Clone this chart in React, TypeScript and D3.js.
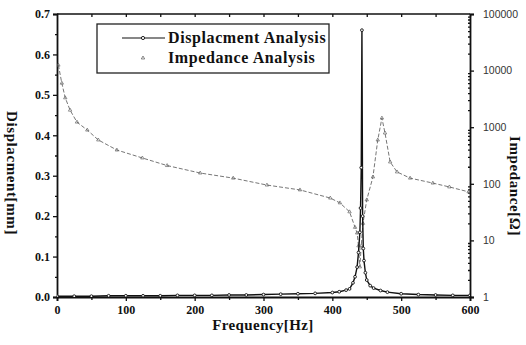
import { useEffect, useRef } from 'react';
import * as d3 from 'd3';

// Displacement analysis (left axis, mm)
const dispFreq = [0, 25, 50, 75, 100, 125, 150, 175, 200, 225, 250, 275, 300, 325, 350, 375, 400, 410, 420, 425, 430, 433, 436, 438, 440, 441, 442, 443, 444, 445, 446, 448, 450, 455, 460, 470, 480, 500, 525, 550, 575, 600];
const dispVal = [0.002, 0.002, 0.002, 0.003, 0.003, 0.003, 0.003, 0.004, 0.004, 0.004, 0.005, 0.005, 0.006, 0.007, 0.008, 0.009, 0.011, 0.013, 0.017, 0.02, 0.035, 0.05, 0.074, 0.11, 0.16, 0.22, 0.32, 0.66, 0.2, 0.12, 0.09, 0.06, 0.042, 0.028, 0.022, 0.016, 0.012, 0.008, 0.006, 0.005, 0.004, 0.004];

// Impedance analysis (right axis, log)
const impFreq = [2, 7, 12, 19, 29, 44, 60, 87, 124, 160, 208, 256, 305, 353, 397, 411, 425, 433, 436, 438, 440, 442, 444.5, 450, 459, 466, 472, 476.5, 484, 494, 513, 546, 570, 598];
const impVal = [12500, 6000, 3300, 2000, 1230, 890, 595, 395, 286, 210, 155, 126, 95, 78, 56, 46, 32, 17, 13.5, 8, 3.4, 8, 20, 52, 132, 594, 1450, 790, 243, 162, 126, 103, 88, 72];

const xTicks = [0, 100, 200, 300, 400, 500, 600];
const yLeftTicks = [0.0, 0.1, 0.2, 0.3, 0.4, 0.5, 0.6, 0.7];
const yRightTicks = [1, 10, 100, 1000, 10000, 100000];

const SERIF = '"Liberation Serif", "Times New Roman", serif';
const SANS = '"Liberation Sans", Arial, sans-serif';

export default function App() {
  const svgRef = useRef<SVGSVGElement>(null);

  useEffect(() => {
    if (!svgRef.current) return;
    const width = 526, height = 345;
    const L = 57, R = 470, T = 14, B = 297;

    const svg = d3.select(svgRef.current);
    svg.selectAll('*').remove();
    svg.attr('width', width).attr('height', height);

    const x = d3.scaleLinear().domain([0, 600]).range([L, R]);
    const yL = d3.scaleLinear().domain([0, 0.7]).range([B, T]);
    const yR = d3.scaleLog().domain([1, 100000]).range([B, T]);

    svg.append('rect').attr('width', width).attr('height', height).attr('fill', '#fff');

    const clip = svg.append('defs').append('clipPath').attr('id', 'plot');
    clip.append('rect').attr('x', L).attr('y', T - 2).attr('width', R - L).attr('height', B - T + 2);

    // Axes
    const bottom = svg.append('g').attr('transform', `translate(0,${B})`)
      .call(d3.axisBottom(x).tickValues(xTicks).tickSize(4).tickPadding(4).tickFormat(d3.format('d')));
    bottom.append('g').call(d3.axisBottom(x).tickValues(d3.range(50, 600, 100)).tickSize(3).tickFormat(() => ''))
      .call(s => s.select('.domain').remove());

    svg.append('g').attr('transform', `translate(0,${T})`)
      .call(d3.axisBottom(x).tickValues(d3.range(50, 601, 50)).tickSize(3).tickFormat(() => ''))
      .call(s => s.select('.domain').remove());
    svg.append('line').attr('x1', L).attr('x2', R).attr('y1', T).attr('y2', T);

    const left = svg.append('g').attr('transform', `translate(${L},0)`)
      .call(d3.axisLeft(yL).tickValues(yLeftTicks).tickSize(4).tickPadding(3).tickFormat(d3.format('.1f')));
    left.append('g').call(d3.axisLeft(yL).tickValues(d3.range(0.05, 0.7, 0.1)).tickSize(2).tickFormat(() => ''))
      .call(s => s.select('.domain').remove());

    const minor: number[] = [];
    for (let e = 0; e < 5; e++) for (let k = 2; k < 10; k++) minor.push(k * Math.pow(10, e));
    const right = svg.append('g').attr('transform', `translate(${R},0)`)
      .call(d3.axisRight(yR).tickValues(yRightTicks).tickSize(4).tickPadding(9).tickFormat(d3.format('d')));
    right.append('g').call(d3.axisLeft(yR).tickValues(minor).tickSize(2).tickFormat(() => ''))
      .call(s => s.select('.domain').remove());

    svg.selectAll('.domain, line').attr('stroke', '#111').attr('stroke-width', 1.3);
    svg.selectAll('.domain').attr('stroke-width', 1.8);
    bottom.selectAll('text').attr('font-family', SERIF).attr('font-weight', 'bold').attr('font-size', 12).attr('fill', '#111');
    left.selectAll('text').attr('font-family', SERIF).attr('font-weight', 'bold').attr('font-size', 12).attr('fill', '#111');
    right.selectAll('text').attr('font-family', SANS).attr('font-size', 10.5).attr('fill', '#333').attr('text-anchor', 'start');

    // Series
    const plot = svg.append('g').attr('clip-path', 'url(#plot)');
    const dispPts = dispFreq.map((f, i) => [x(f), yL(dispVal[i])] as [number, number]);
    const impPts = impFreq.map((f, i) => [x(f), yR(impVal[i])] as [number, number]);

    plot.append('path').attr('d', d3.line()(impPts)).attr('fill', 'none')
      .attr('stroke', '#666').attr('stroke-width', 0.9).attr('stroke-dasharray', '4,2');
    const tri = d3.symbol().type(d3.symbolTriangle).size(5);
    plot.selectAll('.imp').data(impPts).join('path').attr('class', 'imp')
      .attr('transform', d => `translate(${d[0]},${d[1]})`).attr('d', tri)
      .attr('fill', 'none').attr('stroke', '#666').attr('stroke-width', 0.7);

    plot.append('path').attr('d', d3.line()(dispPts)).attr('fill', 'none')
      .attr('stroke', '#111').attr('stroke-width', 1.4);
    plot.selectAll('.disp').data(dispPts).join('circle').attr('class', 'disp')
      .attr('cx', d => d[0]).attr('cy', d => d[1]).attr('r', 1.4)
      .attr('fill', '#fff').attr('stroke', '#111').attr('stroke-width', 0.9);

    // Legend
    const lg = svg.append('g');
    lg.append('rect').attr('x', 97).attr('y', 24).attr('width', 232).attr('height', 49)
      .attr('fill', '#fff').attr('stroke', '#222').attr('stroke-width', 1.3);
    lg.append('line').attr('x1', 122).attr('x2', 165).attr('y1', 38).attr('y2', 38)
      .attr('stroke', '#111').attr('stroke-width', 1.2);
    lg.append('circle').attr('cx', 143).attr('cy', 38).attr('r', 1.6)
      .attr('fill', '#fff').attr('stroke', '#111').attr('stroke-width', 0.9);
    lg.append('path').attr('transform', 'translate(143,58)').attr('d', tri)
      .attr('fill', 'none').attr('stroke', '#666').attr('stroke-width', 0.8);
    const legText = [['Displacment Analysis', 43], ['Impedance Analysis', 63]] as const;
    legText.forEach(([t, yy]) => {
      lg.append('text').attr('x', 168).attr('y', yy).text(t)
        .attr('font-family', SERIF).attr('font-weight', 'bold').attr('font-size', 16)
        .attr('letter-spacing', 0.6).attr('fill', '#111');
    });

    // Axis titles
    svg.append('text').attr('x', 263).attr('y', 330).attr('text-anchor', 'middle')
      .attr('font-family', SERIF).attr('font-weight', 'bold').attr('font-size', 15)
      .attr('letter-spacing', 0.4).attr('fill', '#111')
      .text('Frequency[Hz]');
    svg.append('text').attr('transform', 'translate(7,173) rotate(90)').attr('text-anchor', 'middle')
      .attr('font-family', SERIF).attr('font-weight', 'bold').attr('font-size', 15)
      .attr('letter-spacing', 0.6).attr('fill', '#111')
      .text('Displacment[mm]');
    svg.append('text').attr('transform', 'translate(510,186) rotate(90)').attr('text-anchor', 'middle')
      .attr('font-family', SERIF).attr('font-weight', 'bold').attr('font-size', 15)
      .attr('letter-spacing', 0.6).attr('fill', '#111')
      .text('Impedance[Ω]');
  }, []);

  return <svg ref={svgRef} style={{ position: 'absolute', left: 0, top: 0, display: 'block' }} />;
}
